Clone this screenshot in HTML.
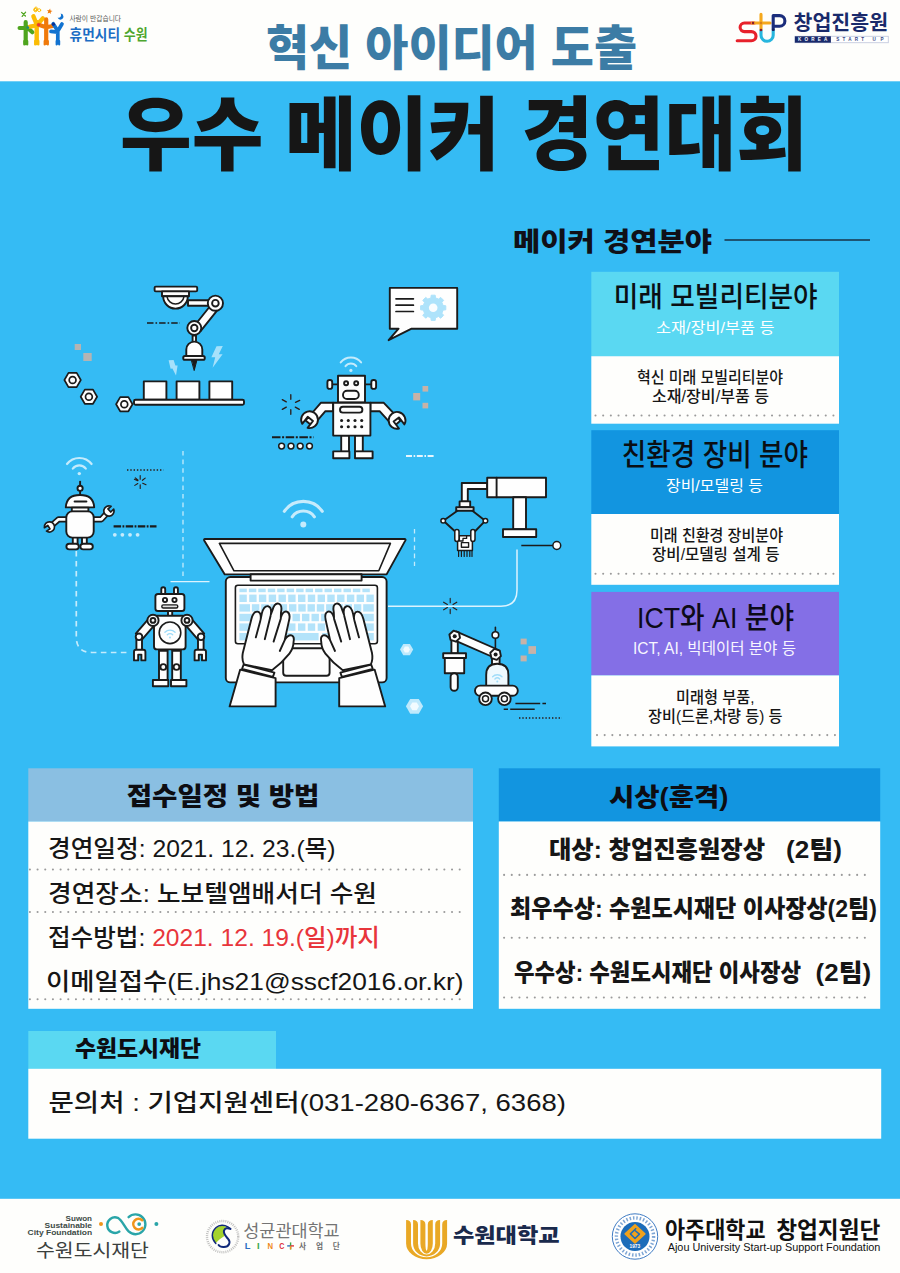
<!DOCTYPE html>
<html lang="ko"><head><meta charset="utf-8"><title>우수 메이커 경연대회</title>
<style>
html,body{margin:0;padding:0;background:#35bbf4;}
body{width:900px;height:1273px;overflow:hidden;position:relative;font-family:"Liberation Sans",sans-serif;}
svg{position:absolute;left:0;top:0;display:block}
.tx{position:absolute;margin:0;padding:0;line-height:1;white-space:nowrap;font-weight:400;color:transparent;background:none;pointer-events:none}
</style></head><body>
<svg width="900" height="1273" viewBox="0 0 900 1273">

<rect x="0" y="0" width="900" height="1273" fill="#35bbf4"/>
<rect x="0" y="0" width="900" height="81.3" fill="#fefefc"/>
<rect x="0" y="1198.8" width="900" height="75" fill="#fefefc"/>
<!-- category column -->
<rect x="591.3" y="271.8" width="247.7" height="84.4" fill="#5ad8f2"/>
<rect x="591.3" y="356.2" width="247.7" height="67.5" fill="#fefefc"/>
<rect x="591.3" y="430.2" width="247.7" height="83.8" fill="#1295e0"/>
<rect x="591.3" y="514" width="247.7" height="70.8" fill="#fefefc"/>
<rect x="591.3" y="591.9" width="247.7" height="83.5" fill="#846fe6"/>
<rect x="591.3" y="675.4" width="247.7" height="71" fill="#fefefc"/>
<line x1="595.5" y1="415.5" x2="833.47" y2="415.5" stroke="#9b9b9b" stroke-width="2.1" stroke-linecap="round" stroke-dasharray="0 7.675"/>
<line x1="595.5" y1="573.8" x2="833.47" y2="573.8" stroke="#9b9b9b" stroke-width="2.1" stroke-linecap="round" stroke-dasharray="0 7.675"/>
<line x1="597" y1="735.1" x2="834.97" y2="735.1" stroke="#9b9b9b" stroke-width="2.1" stroke-linecap="round" stroke-dasharray="0 7.675"/>
<line x1="724.5" y1="240" x2="870" y2="240" stroke="#173247" stroke-width="1.4"/>
<!-- panels -->
<rect x="28.3" y="768.3" width="444.7" height="53.2" fill="#8abfe2"/>
<rect x="28.3" y="821.5" width="444.7" height="187.3" fill="#fefefc"/>
<rect x="498.8" y="768.3" width="381.4" height="53.2" fill="#1295e0"/>
<rect x="498.8" y="821.5" width="381.4" height="187.3" fill="#fefefc"/>
<line x1="29.9" y1="869.5" x2="459.75" y2="869.5" stroke="#9b9b9b" stroke-width="2.1" stroke-linecap="round" stroke-dasharray="0 7.675"/>
<line x1="29.9" y1="912" x2="459.75" y2="912" stroke="#9b9b9b" stroke-width="2.1" stroke-linecap="round" stroke-dasharray="0 7.675"/>
<line x1="29.9" y1="999.2" x2="459.75" y2="999.2" stroke="#9b9b9b" stroke-width="2.1" stroke-linecap="round" stroke-dasharray="0 7.675"/>
<line x1="504.1" y1="874.9" x2="864.88" y2="874.9" stroke="#9b9b9b" stroke-width="2.1" stroke-linecap="round" stroke-dasharray="0 7.675"/>
<line x1="504.1" y1="937.8" x2="864.88" y2="937.8" stroke="#9b9b9b" stroke-width="2.1" stroke-linecap="round" stroke-dasharray="0 7.675"/>
<line x1="504.1" y1="997.5" x2="864.88" y2="997.5" stroke="#9b9b9b" stroke-width="2.1" stroke-linecap="round" stroke-dasharray="0 7.675"/>
<rect x="28.3" y="1031" width="247.7" height="38" fill="#5ad8f2"/>
<rect x="28.3" y="1068.8" width="852.9" height="69.9" fill="#fefefc"/>

<g id="illus"><g fill="none" stroke="#c4ebfc" stroke-width="1.3">
<path d="M183 451V579" stroke-dasharray="4.6 4"/>
<path d="M76.3 551V637Q76.3 652.5 92 652.5H128" stroke-dasharray="5.6 4.4" stroke-width="1.7"/>
<path d="M414.5 529V566" stroke-dasharray="4.6 3.6"/>
<path d="M170.5 581.7H209.5" stroke="#dcf3fe" stroke-width="1.3"/>
<path d="M388 606.3H501Q517 606.3 517 590V549.5" stroke="#dcf3fe" stroke-width="1.5"/>
</g>
<rect x="74.7" y="344" width="6.3" height="6.0" fill="#b4b4b4"/>
<rect x="83.3" y="353" width="8.4" height="8.0" fill="#b4b4b4"/>
<rect x="422.5" y="386" width="5.7" height="5.6" fill="#c7b2a7"/>
<rect x="413.2" y="393" width="7.0" height="7.4" fill="#c7b2a7"/>
<rect x="422.5" y="402.8" width="5.7" height="5.6" fill="#c7b2a7"/>
<rect x="520.6" y="638.6" width="6.1" height="5.8" fill="#c7b2a7"/>
<rect x="528.4" y="646.1" width="7.6" height="7.8" fill="#c7b2a7"/>
<rect x="520.6" y="655.5" width="6.1" height="5.9" fill="#c7b2a7"/>
<polygon points="80.8,380.0 76.7,387.1 68.5,387.1 64.4,380.0 68.5,372.9 76.7,372.9" fill="#fefefe" stroke="#1b1b1b" stroke-width="1.7" stroke-linejoin="round"/>
<circle cx="72.6" cy="380" r="3.4" fill="#fefefe" stroke="#1b1b1b" stroke-width="1.7"/>
<polygon points="97.1,396.7 93.0,403.8 84.8,403.8 80.7,396.7 84.8,389.6 93.0,389.6" fill="#fefefe" stroke="#1b1b1b" stroke-width="1.7" stroke-linejoin="round"/>
<circle cx="88.9" cy="396.7" r="3.4" fill="#fefefe" stroke="#1b1b1b" stroke-width="1.7"/>
<polygon points="132.5,404.2 128.4,411.3 120.2,411.3 116.1,404.2 120.2,397.1 128.4,397.1" fill="#fefefe" stroke="#1b1b1b" stroke-width="1.7" stroke-linejoin="round"/>
<circle cx="124.3" cy="404.2" r="3.4" fill="#fefefe" stroke="#1b1b1b" stroke-width="1.7"/>
<polygon points="413.2,649.6 409.9,655.3 403.3,655.3 400.0,649.6 403.3,643.9 409.9,643.9" fill="#bfe9fc"/>
<polygon points="410.0,649.6 408.3,652.6 404.9,652.6 403.2,649.6 404.9,646.6 408.3,646.6" fill="#f2fbff"/>
<polygon points="423.1,706.3 418.8,713.7 410.2,713.7 405.9,706.3 410.2,698.9 418.8,698.9" fill="#bfe9fc"/>
<polygon points="419.0,706.3 416.7,710.2 412.3,710.2 410.0,706.3 412.3,702.4 416.7,702.4" fill="#f2fbff"/>
<path d="M290.8 399.3L290.8 394.7M295.5 402.3L299.7 400.4M295.3 407.1L299.3 409.4M290.8 409.7L290.8 414.3M286.3 407.1L282.3 409.4M286.3 401.9L282.3 399.6" stroke="#2a1a14" stroke-width="1.3" fill="none" stroke-linecap="round"/>
<path d="M140.2 479.2L140.2 475.6M142.4 480.3L145.2 478.1M142.7 483.2L146.0 484.7M140.2 484.8L140.2 488.4M137.8 483.5L134.8 485.4M137.7 480.8L134.4 479.3M138.1 480.2L135.3 477.9" stroke="#2a1a14" stroke-width="1.1" fill="none" stroke-linecap="round"/>
<path d="M450.2 602.8L450.2 598.4M453.0 604.4L456.8 602.2M453.0 607.6L456.8 609.8M450.2 609.2L450.2 613.6M447.4 607.6L443.6 609.8M447.4 604.4L443.6 602.2" stroke="#2a1a14" stroke-width="1.1" fill="none" stroke-linecap="round"/>
<path d="M147 323H180" stroke="#1b1b1b" stroke-width="1.4" stroke-dasharray="6.5 2 1.6 2" fill="none"/>
<path d="M272 437.2H313.5" stroke="#1b1b1b" stroke-width="2" stroke-dasharray="8.5 1.6 2 1.6" fill="none"/>
<path d="M113.6 526.4H156.5" stroke="#1b1b1b" stroke-width="2.4" stroke-dasharray="7.5 1.4 1.8 1.4" fill="none"/>
<path d="M127 470H163.5" stroke="#2a1a14" stroke-width="1.5" stroke-dasharray="1.4 1.9" fill="none"/>
<path d="M519 718H562" stroke="#2a1a14" stroke-width="1.5" stroke-dasharray="1.4 1.9" fill="none"/>
<path d="M406 455.9H434.5" stroke="#e6f6fe" stroke-width="2" stroke-dasharray="6 1.6 1.6 1.6" fill="none"/>
<circle cx="281.6" cy="446.1" r="2.9" fill="#fefefe" stroke="#1b1b1b" stroke-width="1.5"/>
<circle cx="291" cy="446.1" r="2.9" fill="#fefefe" stroke="#1b1b1b" stroke-width="1.5"/>
<circle cx="300.2" cy="446.1" r="2.9" fill="#fefefe" stroke="#1b1b1b" stroke-width="1.5"/>
<circle cx="309.5" cy="446.1" r="2.9" fill="#fefefe" stroke="#1b1b1b" stroke-width="1.5"/>
<circle cx="114.8" cy="534.8" r="1.9" fill="#c6ebfc"/>
<circle cx="122.4" cy="534.8" r="1.9" fill="#c6ebfc"/>
<circle cx="130" cy="534.8" r="1.9" fill="#c6ebfc"/>
<circle cx="137.6" cy="534.8" r="1.9" fill="#c6ebfc"/>
<path d="M515.4 703.4H540.2M542.4 703.4H546M510.2 709.3H534.7M503.7 709.3H508" stroke="#1b1b1b" stroke-width="1.5" fill="none"/>
<path d="M521.3 545.5H553" stroke="#1b1b1b" stroke-width="1.5"/><circle cx="556.8" cy="545.5" r="3.9" fill="#fefefe" stroke="#1b1b1b" stroke-width="1.5"/>
<g fill="#fefefe" stroke="#1b1b1b" stroke-width="1.9" stroke-linejoin="round" stroke-linecap="round">
<path d="M188 300.2H212V305.8H188Z"/>
<path d="M210.6 305.5L217.4 310.2L200.6 331.2L193.8 326.5Z"/>
<rect x="154.6" y="286.6" width="42.6" height="4.8" rx="1.2"/>
<path d="M162 291.4H189V296.3H162Z"/>
<path d="M163.2 296.3A12.3 12.3 0 0 0 187.8 296.3Z"/>
<path d="M167 296.6A8.6 8.6 0 0 0 184 296.6" fill="none" stroke-width="1.5"/>
<circle cx="215.4" cy="303.2" r="7.6"/><circle cx="215.4" cy="303.2" r="3.3"/>
<circle cx="194.3" cy="328" r="7"/><circle cx="194.3" cy="328" r="3.2"/>
<rect x="192.6" y="335.5" width="3.4" height="6.5"/>
<path d="M186.3 356V349.6A8 8 0 0 1 202.3 349.6V356Z"/>
<rect x="183.2" y="356" width="21.6" height="3.8" rx="1.9"/>
<path d="M191.8 360.6H196.8L194.3 370.2Z" fill="#1b1b1b" stroke-width="1"/>
<rect x="143.8" y="381.4" width="22.6" height="18.4"/><rect x="176.6" y="381.4" width="22.8" height="18.4"/><rect x="209.4" y="381.4" width="22.8" height="18.4"/>
<rect x="134" y="399.8" width="110" height="5" rx="1.5"/>
</g>
<path d="M216.5 346.2L222.8 346L218.8 354.2L222.6 354.2L212.6 367.8L215.2 357.2L211.4 357.2Z" fill="#a6e1fb"/>
<path d="M168.6 360.2L173.6 360L175.4 365.6L177.6 365.4L176 375.6L172.4 368.6L170.6 368.8Z" fill="#a6e1fb"/>
<path d="M389.8 287.9H457.2V328.7H411.6L388.6 340.2L398.6 328.7H389.8Z" fill="#fefefe" stroke="#1b1b1b" stroke-width="1.9" stroke-linejoin="round" stroke-linecap="round"/>
<path d="M396 298.8H413.4M396 305.2H413.4M396 311.5H413.4" stroke="#1b1b1b" stroke-width="1.7" stroke-linecap="round" fill="none"/>
<path d="M443.1 305.5L445.8 305.8L445.8 309.8L443.1 310.1L441.9 313.2L443.6 315.3L440.7 318.2L438.6 316.5L435.5 317.7L435.2 320.4L431.2 320.4L430.9 317.7L427.8 316.5L425.7 318.2L422.8 315.3L424.5 313.2L423.3 310.1L420.6 309.8L420.6 305.8L423.3 305.5L424.5 302.4L422.8 300.3L425.7 297.4L427.8 299.1L430.9 297.9L431.2 295.2L435.2 295.2L435.5 297.9L438.6 299.1L440.7 297.4L443.6 300.3L441.9 302.4Z" fill="#aee3fb" stroke="#aee3fb" stroke-width="1" stroke-linejoin="round"/><circle cx="433.2" cy="307.8" r="4.3" fill="#fafdff"/>
<path d="M345.5 366.2A6.8 6.8 0 0 1 356.3 366.2M340.7 362.4A13 13 0 0 1 361.1 362.4" stroke="#c4ebfc" stroke-width="2.0" fill="none" stroke-linecap="round"/>
<circle cx="350.9" cy="370.4" r="1.6" fill="#c4ebfc"/>
<g fill="#fefefe" stroke="#1b1b1b" stroke-width="1.9" stroke-linejoin="round" stroke-linecap="round">
<path d="M333.1 402.8H320.8L305.6 420.5L312.6 426.2L325.4 411.2H333.1Z"/>
<path d="M370.4 402.8H383.8L400.6 420.5L393.6 426.6L379.6 411.2H370.4Z"/>
<path d="M302.2 423.8A8.4 8.4 0 1 1 307.6 427.9L313.0 420.9L307.7 416.8Z"/>
<path d="M399.0 428.5A8.4 8.4 0 1 1 404.4 424.4L398.9 417.4L393.6 421.5Z"/>
<path d="M332.2 384.4H338M365 384.4H371.3" fill="none"/>
<rect x="327.4" y="380" width="4.8" height="8.9" rx="2.2"/><rect x="371.3" y="380" width="4.8" height="8.9" rx="2.2"/>
<rect x="338" y="375.7" width="27" height="26.8"/>
<circle cx="346.1" cy="383.2" r="2"/><circle cx="356.2" cy="383.2" r="2"/>
<rect x="343" y="390.8" width="15.8" height="8.2" rx="4.1"/>
<rect x="341.2" y="435.6" width="7.8" height="16"/><rect x="355" y="435.6" width="7.8" height="16"/>
<rect x="333.2" y="451.4" width="16.2" height="6.8"/><rect x="355" y="451.4" width="17.6" height="6.8"/>
<rect x="333.2" y="402.8" width="37.2" height="32.8"/>
<rect x="340" y="406.8" width="22.4" height="5.8" rx="2.9"/>
</g>
<circle cx="341.6" cy="420.5" r="1.55" fill="#1b1b1b"/>
<circle cx="348.3" cy="420.5" r="1.55" fill="#1b1b1b"/>
<circle cx="355" cy="420.5" r="1.55" fill="#1b1b1b"/>
<circle cx="361.7" cy="420.5" r="1.55" fill="#1b1b1b"/>
<circle cx="341.6" cy="426.8" r="1.55" fill="#1b1b1b"/>
<circle cx="348.3" cy="426.8" r="1.55" fill="#1b1b1b"/>
<circle cx="355" cy="426.8" r="1.55" fill="#1b1b1b"/>
<circle cx="361.7" cy="426.8" r="1.55" fill="#1b1b1b"/>
<path d="M72.8 468.6A8.2 8.2 0 0 1 85.8 468.6M67.0 464.0A15.6 15.6 0 0 1 91.6 464.0" stroke="#c4ebfc" stroke-width="2.2" fill="none" stroke-linecap="round"/>
<circle cx="79.3" cy="473.6" r="1.7" fill="#c4ebfc"/>
<g fill="#fefefe" stroke="#1b1b1b" stroke-width="1.9" stroke-linejoin="round" stroke-linecap="round">
<path d="M80.1 481.6V495.4" fill="none"/><circle cx="80.1" cy="488.3" r="2.6"/>
<path d="M66.4 519.3H58.6L51 526" fill="none" stroke-width="6.2" stroke-linecap="butt"/>
<path d="M67 519.3H58.6L51 526" fill="none" stroke="#fefefe" stroke-width="2.8" stroke-linecap="butt"/>
<path d="M93.6 519.3H101.4L107.6 512.4" fill="none" stroke-width="6.2" stroke-linecap="butt"/>
<path d="M93 519.3H101.4L107.6 512.4" fill="none" stroke="#fefefe" stroke-width="2.8" stroke-linecap="butt"/>
<path d="M44.4 527.7A5.1 5.1 0 1 1 46.5 531.1L50.0 528.9L47.8 525.5Z" stroke-width="1.7"/>
<path d="M113.7 509.2A5.1 5.1 0 1 1 111.0 506.3L108.0 509.0L110.7 512.0Z" stroke-width="1.7"/>
<path d="M65.8 507.4Q66.4 495 80 495Q93.6 495 94.2 507.4Z"/>
<path d="M74.6 501.6H86.4" stroke-width="2"/>
<rect x="71.8" y="507.6" width="16.6" height="4.2"/>
<rect x="72.8" y="537" width="4.8" height="7.4"/><rect x="82" y="537" width="4.8" height="7.4"/>
<rect x="66.4" y="543.8" width="12.4" height="5.6" rx="2.8"/><rect x="80.4" y="543.8" width="12.4" height="5.6" rx="2.8"/>
<rect x="66.3" y="511.4" width="27.4" height="26.2" rx="6"/>
</g>
<g fill="#fefefe" stroke="#1b1b1b" stroke-width="1.9" stroke-linejoin="round" stroke-linecap="round">
<rect x="161.3" y="587.3" width="3.9" height="9" rx="1.9"/><rect x="174" y="587.3" width="3.9" height="9" rx="1.9"/>
<rect x="155.4" y="594" width="29" height="17" rx="2.6"/>
<circle cx="165" cy="600" r="2.1"/><circle cx="174.5" cy="600" r="2.1"/>
<rect x="161.8" y="604.9" width="16" height="3.1" rx="1.5" fill="#e2e2e2" stroke-width="1.4"/>
<rect x="168" y="611" width="4.2" height="5"/>
<path d="M149.6 617.6L156.2 623.2L142.4 639.2L135.8 633.6Z"/><path d="M190.4 617.6L183.8 623.2L197.6 639.2L204.2 633.6Z"/>
<rect x="136.4" y="638" width="5.6" height="13"/><rect x="198" y="638" width="5.6" height="13"/>
<circle cx="139" cy="636.8" r="3.3"/><circle cx="201" cy="636.8" r="3.3"/>
<path d="M134 651.8Q134 649.8 136 649.8H143.4Q145.4 649.8 145.4 651.8V660.4H141.4V654.6H138.2V660.4H134Z"/>
<path d="M194.6 651.8Q194.6 649.8 196.6 649.8H204Q206 649.8 206 651.8V660.4H202V654.6H198.8V660.4H194.6Z"/>
<rect x="159" y="649.4" width="8.6" height="30.8"/><rect x="172.2" y="649.4" width="8.6" height="30.8"/>
<circle cx="163.3" cy="667" r="2.9"/><circle cx="176.5" cy="667" r="2.9"/>
<rect x="152.9" y="680" width="15.4" height="6.2"/><rect x="171" y="680" width="15.4" height="6.2"/>
<rect x="154" y="615.7" width="31.6" height="33.7" rx="3"/>
<path d="M159.6 650.6H167M172.8 650.6H180.2" stroke-width="2.2"/>
<circle cx="153" cy="620.4" r="5.6"/><circle cx="153" cy="620.4" r="2.4"/>
<circle cx="187" cy="620.4" r="5.6"/><circle cx="187" cy="620.4" r="2.4"/>
<circle cx="170" cy="632.8" r="10.8" stroke-width="1.6"/>
</g>
<path d="M167.3 634.7A3.8 3.8 0 0 1 172.7 634.7M164.9 632.3A7.2 7.2 0 0 1 175.1 632.3" stroke="#9fdcf9" stroke-width="1.3" fill="none" stroke-linecap="round"/>
<circle cx="170" cy="637.4" r="1.0" fill="#9fdcf9"/>
<path d="M292.2 516.8A13.6 13.6 0 0 1 314.4 516.8M284.3 511.3A23.2 23.2 0 0 1 322.3 511.3" stroke="#c6ebfc" stroke-width="3.1" fill="none" stroke-linecap="round"/>
<circle cx="303.3" cy="524.6" r="3.0" fill="#c6ebfc"/>
<g fill="#fefefe" stroke="#1b1b1b" stroke-width="1.9" stroke-linejoin="round" stroke-linecap="round">
<rect x="225.8" y="577" width="160.8" height="105.4" rx="4.5"/>
<path d="M205 539H404.6Q406 539 405.4 540.4L386.6 574.4H224.8L204.2 540.4Q203.6 539 205 539Z"/>
<path d="M219.4 543.4H390.4L378.8 570.8H234Z" stroke-width="1.6"/>
<rect x="250.6" y="574.2" width="111" height="6.4"/>
<rect x="235.4" y="585.2" width="142" height="58.6" rx="2.5" stroke-width="1.6"/>
<rect x="283.2" y="648.2" width="46.4" height="27.6" rx="3"/>
</g>
<rect x="239.4" y="588.6" width="7.4" height="3.6" fill="#b3e3fa"/>
<rect x="248.9" y="588.6" width="7.4" height="3.6" fill="#b3e3fa"/>
<rect x="258.3" y="588.6" width="7.4" height="3.6" fill="#b3e3fa"/>
<rect x="267.8" y="588.6" width="7.4" height="3.6" fill="#b3e3fa"/>
<rect x="277.2" y="588.6" width="7.4" height="3.6" fill="#b3e3fa"/>
<rect x="286.7" y="588.6" width="7.4" height="3.6" fill="#b3e3fa"/>
<rect x="296.2" y="588.6" width="7.4" height="3.6" fill="#b3e3fa"/>
<rect x="305.6" y="588.6" width="7.4" height="3.6" fill="#b3e3fa"/>
<rect x="315.1" y="588.6" width="7.4" height="3.6" fill="#b3e3fa"/>
<rect x="324.5" y="588.6" width="7.4" height="3.6" fill="#b3e3fa"/>
<rect x="334.0" y="588.6" width="7.4" height="3.6" fill="#b3e3fa"/>
<rect x="343.5" y="588.6" width="7.4" height="3.6" fill="#b3e3fa"/>
<rect x="352.9" y="588.6" width="7.4" height="3.6" fill="#b3e3fa"/>
<rect x="362.4" y="588.6" width="7.4" height="3.6" fill="#b3e3fa"/>
<rect x="239.4" y="594.6" width="7.4" height="7.4" fill="#b3e3fa"/>
<rect x="249.2" y="594.6" width="7.4" height="7.4" fill="#b3e3fa"/>
<rect x="258.9" y="594.6" width="7.4" height="7.4" fill="#b3e3fa"/>
<rect x="268.7" y="594.6" width="7.4" height="7.4" fill="#b3e3fa"/>
<rect x="278.5" y="594.6" width="7.4" height="7.4" fill="#b3e3fa"/>
<rect x="288.2" y="594.6" width="7.4" height="7.4" fill="#b3e3fa"/>
<rect x="298.0" y="594.6" width="7.4" height="7.4" fill="#b3e3fa"/>
<rect x="307.8" y="594.6" width="7.4" height="7.4" fill="#b3e3fa"/>
<rect x="317.6" y="594.6" width="7.4" height="7.4" fill="#b3e3fa"/>
<rect x="327.3" y="594.6" width="7.4" height="7.4" fill="#b3e3fa"/>
<rect x="337.1" y="594.6" width="7.4" height="7.4" fill="#b3e3fa"/>
<rect x="346.9" y="594.6" width="7.4" height="7.4" fill="#b3e3fa"/>
<rect x="356.6" y="594.6" width="7.4" height="7.4" fill="#b3e3fa"/>
<rect x="366.4" y="594.6" width="7.4" height="7.4" fill="#b3e3fa"/>
<rect x="239.4" y="604.2" width="10.6" height="7.4" fill="#b3e3fa"/>
<rect x="251.9" y="604.2" width="7.4" height="7.4" fill="#b3e3fa"/>
<rect x="261.2" y="604.2" width="7.4" height="7.4" fill="#b3e3fa"/>
<rect x="270.4" y="604.2" width="7.4" height="7.4" fill="#b3e3fa"/>
<rect x="279.7" y="604.2" width="7.4" height="7.4" fill="#b3e3fa"/>
<rect x="289.0" y="604.2" width="7.4" height="7.4" fill="#b3e3fa"/>
<rect x="298.3" y="604.2" width="7.4" height="7.4" fill="#b3e3fa"/>
<rect x="307.5" y="604.2" width="7.4" height="7.4" fill="#b3e3fa"/>
<rect x="316.8" y="604.2" width="7.4" height="7.4" fill="#b3e3fa"/>
<rect x="326.1" y="604.2" width="7.4" height="7.4" fill="#b3e3fa"/>
<rect x="335.4" y="604.2" width="7.4" height="7.4" fill="#b3e3fa"/>
<rect x="344.6" y="604.2" width="7.4" height="7.4" fill="#b3e3fa"/>
<rect x="353.9" y="604.2" width="7.4" height="7.4" fill="#b3e3fa"/>
<rect x="363.2" y="604.2" width="10.6" height="7.4" fill="#b3e3fa"/>
<rect x="239.4" y="613.8" width="12.8" height="7.4" fill="#b3e3fa"/>
<rect x="254.3" y="613.8" width="7.4" height="7.4" fill="#b3e3fa"/>
<rect x="263.9" y="613.8" width="7.4" height="7.4" fill="#b3e3fa"/>
<rect x="273.4" y="613.8" width="7.4" height="7.4" fill="#b3e3fa"/>
<rect x="282.9" y="613.8" width="7.4" height="7.4" fill="#b3e3fa"/>
<rect x="292.5" y="613.8" width="7.4" height="7.4" fill="#b3e3fa"/>
<rect x="302.0" y="613.8" width="7.4" height="7.4" fill="#b3e3fa"/>
<rect x="311.5" y="613.8" width="7.4" height="7.4" fill="#b3e3fa"/>
<rect x="321.1" y="613.8" width="7.4" height="7.4" fill="#b3e3fa"/>
<rect x="330.6" y="613.8" width="7.4" height="7.4" fill="#b3e3fa"/>
<rect x="340.1" y="613.8" width="7.4" height="7.4" fill="#b3e3fa"/>
<rect x="349.7" y="613.8" width="7.4" height="7.4" fill="#b3e3fa"/>
<rect x="359.2" y="613.8" width="14.6" height="7.4" fill="#b3e3fa"/>
<rect x="239.4" y="623.4" width="16.8" height="7.4" fill="#b3e3fa"/>
<rect x="258.6" y="623.4" width="7.4" height="7.4" fill="#b3e3fa"/>
<rect x="268.5" y="623.4" width="7.4" height="7.4" fill="#b3e3fa"/>
<rect x="278.3" y="623.4" width="7.4" height="7.4" fill="#b3e3fa"/>
<rect x="288.1" y="623.4" width="7.4" height="7.4" fill="#b3e3fa"/>
<rect x="298.0" y="623.4" width="7.4" height="7.4" fill="#b3e3fa"/>
<rect x="307.8" y="623.4" width="7.4" height="7.4" fill="#b3e3fa"/>
<rect x="317.7" y="623.4" width="7.4" height="7.4" fill="#b3e3fa"/>
<rect x="327.5" y="623.4" width="7.4" height="7.4" fill="#b3e3fa"/>
<rect x="337.3" y="623.4" width="7.4" height="7.4" fill="#b3e3fa"/>
<rect x="347.2" y="623.4" width="7.4" height="7.4" fill="#b3e3fa"/>
<rect x="357.0" y="623.4" width="16.8" height="7.4" fill="#b3e3fa"/>
<rect x="239.4" y="633" width="7.4" height="7.4" fill="#b3e3fa"/>
<rect x="250.5" y="633" width="7.4" height="7.4" fill="#b3e3fa"/>
<rect x="261.5" y="633" width="7.4" height="7.4" fill="#b3e3fa"/>
<rect x="272.6" y="633" width="46.0" height="7.4" fill="#b3e3fa"/>
<rect x="322.2" y="633" width="7.4" height="7.4" fill="#b3e3fa"/>
<rect x="333.2" y="633" width="7.4" height="7.4" fill="#b3e3fa"/>
<rect x="344.3" y="633" width="7.4" height="7.4" fill="#b3e3fa"/>
<rect x="355.4" y="633" width="7.4" height="7.4" fill="#b3e3fa"/>
<rect x="366.4" y="633" width="7.4" height="7.4" fill="#b3e3fa"/>
<g fill="#fefefe" stroke="#1b1b1b" stroke-width="1.9" stroke-linejoin="round" stroke-linecap="round"><path d="M275.6 678.2V706.4H229.6L240.2 669.6Z"/>
<path d="M243.6 664.6L274.4 672.6L273 676.8L242 669Z"/>
<path d="M244 664.4Q241.6 659.6 242.8 653L251.4 619Q253.4 611.4 257.4 611.6Q261.6 612.2 260.6 619.6L261.8 613.6Q263.8 605.6 268 606.2Q272 607 270.8 614.6L272.4 610.4Q274.4 602.8 278.4 603.6Q282.6 604.6 281 612.4L280.8 617.6Q283 610.6 286.8 611.6Q290.6 613 289.2 619.6L284.8 639.6Q288.2 634.6 291.6 635.4Q294.6 636.6 293.6 641.6Q293.4 648.4 289.4 653.6Q282 663 272 670.2Z"/>
<path d="M260.4 620.6L255.8 637.4M270.6 615.8L264.8 639.2M280.8 618.6L273.6 641.6M284.6 640.4L279.8 651" fill="none"/></g>
<g fill="#fefefe" stroke="#1b1b1b" stroke-width="1.9" stroke-linejoin="round" stroke-linecap="round" transform="translate(614.8 0) scale(-1 1)"><path d="M275.6 678.2V706.4H229.6L240.2 669.6Z"/>
<path d="M243.6 664.6L274.4 672.6L273 676.8L242 669Z"/>
<path d="M244 664.4Q241.6 659.6 242.8 653L251.4 619Q253.4 611.4 257.4 611.6Q261.6 612.2 260.6 619.6L261.8 613.6Q263.8 605.6 268 606.2Q272 607 270.8 614.6L272.4 610.4Q274.4 602.8 278.4 603.6Q282.6 604.6 281 612.4L280.8 617.6Q283 610.6 286.8 611.6Q290.6 613 289.2 619.6L284.8 639.6Q288.2 634.6 291.6 635.4Q294.6 636.6 293.6 641.6Q293.4 648.4 289.4 653.6Q282 663 272 670.2Z"/>
<path d="M260.4 620.6L255.8 637.4M270.6 615.8L264.8 639.2M280.8 618.6L273.6 641.6M284.6 640.4L279.8 651" fill="none"/></g>
<g fill="#fefefe" stroke="#1b1b1b" stroke-width="1.9" stroke-linejoin="round" stroke-linecap="round">
<path d="M487.2 483H461.8V501.4H467.8V489H487.2Z"/>
<rect x="487.2" y="477.8" width="58.8" height="19.4"/><path d="M496.6 477.8V497.2" fill="none"/>
<rect x="513.2" y="497.2" width="12.8" height="32"/>
<rect x="503" y="529.2" width="33.2" height="7.8"/>
<rect x="459.6" y="501.4" width="10.6" height="5.8"/>
<rect x="456.2" y="507.2" width="17.4" height="3.6"/>
<path d="M457.4 510.8L443.4 520.8L456.8 533M472.4 510.8L485.2 520.8L473.4 533" fill="none" stroke-width="1.9"/>
<circle cx="443.2" cy="520.8" r="2.3" stroke-width="1.5"/><circle cx="485.4" cy="520.8" r="2.3" stroke-width="1.5"/>
<rect x="457.6" y="535.8" width="14.8" height="14.8" stroke-width="1.5"/>
<path d="M459.4 535.6V541H463V538.4H466.6V535.6" fill="none" stroke-width="1.3"/>
<rect x="461.4" y="542.6" width="7.2" height="4.6" stroke-width="1.4"/>
<rect x="454.8" y="529.4" width="4.2" height="12" rx="2.1" stroke-width="1.5"/><rect x="470.8" y="529.4" width="4.2" height="12" rx="2.1" stroke-width="1.5"/>
<path d="M458.6 550.6V556.4M461.4 550.6V556.4M464.2 550.6V556.4M467 550.6V556.4M469.8 550.6V556.4M472 550.6V556.4" fill="none" stroke-width="1.2"/>
</g>
<g fill="#fefefe" stroke="#1b1b1b" stroke-width="1.9" stroke-linejoin="round" stroke-linecap="round">
<path d="M495.4 627.4V650" fill="none" stroke-width="1.6"/><circle cx="495.4" cy="635" r="3.3" stroke-width="1.6"/>
<rect x="451.4" y="640" width="6.4" height="13.4"/>
<path d="M456.6 631.6L498.6 650L495 658L453 639.6Z"/>
<rect x="492" y="658" width="7.6" height="8"/>
<polygon points="460.0,637.9 455.9,641.7 450.5,639.9 449.4,634.5 453.5,630.7 458.9,632.5"/>
<polygon points="500.9,656.1 496.8,659.9 491.4,658.1 490.3,652.7 494.4,648.9 499.8,650.7"/>
<rect x="443.2" y="653.2" width="22.8" height="4.8"/>
<rect x="444.8" y="658" width="19.4" height="15.2"/>
<rect x="450.6" y="673.2" width="7.2" height="17.6" rx="3.6"/>
<path d="M486.2 686.2V675Q486.2 663.8 497.2 663.8Q508.4 663.8 508.4 675V686.2Z" fill="#eef9fe"/>
<rect x="475" y="685.6" width="42.8" height="10.2" rx="5.1"/>
<circle cx="485.5" cy="698.8" r="6.3"/><circle cx="485.5" cy="698.8" r="3" stroke-width="1.5"/>
<circle cx="504.4" cy="698.8" r="6.3"/><circle cx="504.4" cy="698.8" r="3" stroke-width="1.5"/>
</g>
<circle cx="454.7" cy="636.2" r="2" fill="#1b1b1b"/><circle cx="495.6" cy="654.4" r="2" fill="#1b1b1b"/>
<path d="M494.9 679.0A3.4 3.4 0 0 1 499.7 679.0M492.6 676.7A6.6 6.6 0 0 1 502.0 676.7" stroke="#9fdcf9" stroke-width="1.3" fill="none" stroke-linecap="round"/>
<circle cx="497.3" cy="681.4" r="1.0" fill="#9fdcf9"/></g>
<g id="logos" font-family="'Liberation Sans','Noto Sans CJK KR',sans-serif"><g fill="none" stroke-linecap="round" stroke-linejoin="round">
<path d="M25.7 22.2V43.2M19.6 28H25.7M26 26.4L32.4 32.2" stroke="#4fa51e" stroke-width="4.2"/>
<path d="M24.3 41V44.4M27.2 41V44.4" stroke="#4fa51e" stroke-width="2.2"/>
<path d="M36.7 22V43M33.4 16.4L36.6 24M30 26.6L36.7 25.4M36.9 25L42.8 18.4" stroke="#fbbc05" stroke-width="4.4"/>
<path d="M35.2 41V44.4M38.3 41V44.4" stroke="#fbbc05" stroke-width="2.3"/>
<path d="M46.2 19.4V43M38.6 24.8L46.2 27.2L52.8 26" stroke="#f07a0a" stroke-width="4.2"/>
<path d="M44.7 41V44.4M47.8 41V44.4" stroke="#f07a0a" stroke-width="2.2"/>
<circle cx="38.6" cy="24.7" r="1.5" fill="#e8343a" stroke="none"/>
<path d="M57.8 31V43M53.2 23.8L57.8 31L62 24M51 31.4L57.6 32.2" stroke="#1273d0" stroke-width="3.7"/>
<path d="M56.6 41V44.4M59.2 41V44.4" stroke="#1273d0" stroke-width="2"/>
<circle cx="53.4" cy="24.2" r="1.6" fill="#0c2f8f" stroke="none"/>
<circle cx="27.8" cy="27.6" r="1.4" fill="#1f8a7a" stroke="none"/>
<path d="M21.6 12.4L25.4 16M25.6 12.2L22.2 16.4" stroke="#4fa51e" stroke-width="1.3"/>
<path d="M37.2 10A1.7 1.7 0 1 0 37.2 10.1A1.7 1.7 0 1 1 37.3 10" stroke="#fbbc05" stroke-width="1" transform="translate(0 0)"/>
<circle cx="35.4" cy="9.6" r="1.5" stroke="#fbbc05" stroke-width="0.9"/><circle cx="39.2" cy="10.2" r="1.5" stroke="#fbbc05" stroke-width="0.9"/>
</g>
<polygon points="50.1,8.5 50.5,10.5 52.5,11.0 50.7,12.0 50.9,14.0 49.4,12.7 47.5,13.4 48.3,11.6 47.0,10.0 49.0,10.2" fill="#f07a0a"/>
<path d="M60.6 13.6A3 3 0 1 1 57.6 17.6A2.6 2.6 0 0 0 60.6 13.6Z" fill="#1273d0"/>
<text x="69.4" y="21.4" font-size="6.8" fill="#5a5a5a" textLength="51.7" lengthAdjust="spacingAndGlyphs">사람이 반갑습니다</text>
<text x="69.6" y="39.7" font-size="15" font-weight="700" fill="#1c6dc4" textLength="50.4" lengthAdjust="spacingAndGlyphs">휴먼시티</text>
<text x="123.8" y="39.8" font-size="15" font-weight="700" fill="#4ea62f" textLength="23.8" lengthAdjust="spacingAndGlyphs">수원</text>
<g fill="none" stroke-linecap="round" stroke-linejoin="round" stroke-width="3.1">
<path d="M754.4 23H744.4A4.3 4.3 0 0 0 744.4 31.6H751.4A4.6 4.6 0 0 1 751.4 40.8H737.2" stroke="#e7212b"/>
<path d="M761 14.4V29.6M752.2 23H770" stroke="#f5a81c"/>
<path d="M761 30.6V35.2A6.1 6.1 0 0 0 773.2 35.2V30.2" stroke="#27b6de"/>
<path d="M773.2 29.4V15.6H779.6A5.3 5.3 0 0 1 779.6 26.2H774.4" stroke="#1b2d7c"/>
</g>
<circle cx="753" cy="23" r="1.3" fill="#8a1c2c"/><circle cx="761" cy="30" r="1.3" fill="#8a1c2c"/><circle cx="773.2" cy="29.8" r="1.3" fill="#14205c"/><circle cx="761" cy="23" r="1.2" fill="#d8801a"/>
<text x="793.5" y="30.4" font-size="20.5" font-weight="700" fill="#192a6b" textLength="94.6" lengthAdjust="spacingAndGlyphs">창업진흥원</text>
<rect x="794.9" y="36.3" width="93.4" height="6.4" fill="#fff" stroke="#c4cade" stroke-width="0.9"/>
<rect x="794.9" y="36.3" width="36" height="6.4" fill="#192a6b"/>
<text x="798.1" y="41.2" font-size="4.6" font-weight="700" fill="#fff" textLength="29.3" lengthAdjust="spacing">KOREA</text>
<text x="836.3" y="41.2" font-size="4.6" font-weight="700" fill="#3a4a8a" textLength="27.7" lengthAdjust="spacing">START</text>
<text x="872.6" y="41.2" font-size="4.6" font-weight="700" fill="#3a4a8a" textLength="10.9" lengthAdjust="spacing">UP</text>
<text x="65.6" y="1220.5" font-size="7.5" font-weight="700" fill="#3c4a45" textLength="26.4" lengthAdjust="spacingAndGlyphs">Suwon</text>
<text x="44.6" y="1227.7" font-size="7.5" font-weight="700" fill="#3c4a45" textLength="47.5" lengthAdjust="spacingAndGlyphs">Sustainable</text>
<text x="27.6" y="1235" font-size="7.5" font-weight="700" fill="#3c4a45" textLength="64.5" lengthAdjust="spacingAndGlyphs">City Foundation</text>
<g fill="none" stroke-linecap="round">
<path d="M128.6 1217.2A9.9 9.9 0 1 1 128.6 1231.4C124.4 1227.4 122.6 1220.6 117.8 1217.8A7.8 7.8 0 1 0 119.4 1231.6" stroke="#2aa5a8" stroke-width="2.4"/>
<path d="M142.2 1220.2A5.3 5.3 0 1 0 142.2 1228" stroke="#f0951a" stroke-width="2.6"/>
</g>
<circle cx="139.2" cy="1224.1" r="1.9" fill="#2aa5a8"/><circle cx="101" cy="1224.1" r="2" fill="#f0951a"/><circle cx="156.4" cy="1224.1" r="2" fill="#2aa5a8"/>
<text x="36" y="1256.6" font-size="18" fill="#3b403d" textLength="112.9" lengthAdjust="spacingAndGlyphs">수원도시재단</text>
<circle cx="222.6" cy="1236.6" r="15.6" fill="none" stroke="#8f8f8f" stroke-width="2.4" stroke-dasharray="1 1.05" opacity="0.55"/>
<path d="M215.8 1243.2 C213.1 1240.0 211.9 1236.1 212.9 1232.2 C213.9 1228.9 217.8 1226.1 222.2 1225.8 C224.4 1225.8 226.1 1226.7 227.2 1227.7 C225.0 1228.6 223.6 1230.3 223.8 1232.8 L224.4 1236.1 C221.7 1237.8 218.3 1240.0 215.8 1243.2 Z" fill="#a4d32e"/>
<path d="M215.8 1243.4 C211.4 1238.9 210.8 1232.2 216.1 1227.5 C219.4 1224.7 224.4 1224.7 227.8 1226.9 C228.9 1227.7 230.0 1228.3 230.6 1229.0" fill="none" stroke="#10297a" stroke-width="1.5" stroke-linecap="round"/>
<path d="M230.4 1228.9 C227.8 1227.7 225.0 1227.8 224.0 1230.6 C223.1 1233.9 225.6 1236.1 228.1 1238.9 C231.1 1242.5 228.9 1246.7 223.9 1247.1 C221.4 1247.2 219.4 1246.4 218.6 1245.1" fill="none" stroke="#10297a" stroke-width="2" stroke-linecap="round"/>
<text x="243.3" y="1236.8" font-size="16.5" fill="#747474" textLength="96.3" lengthAdjust="spacingAndGlyphs">성균관대학교</text>
<text x="244.7" y="1249.2" font-size="9.3" font-weight="700" fill="#2b6fc2">L</text>
<text x="256.9" y="1249.2" font-size="9.3" font-weight="700" fill="#3aa64a">I</text>
<text x="267.5" y="1249.2" font-size="9.3" font-weight="700" fill="#f08a1e" textLength="5.6" lengthAdjust="spacingAndGlyphs">N</text>
<text x="279.3" y="1249.1" font-size="9.3" font-weight="700" fill="#e0303a" textLength="5.2" lengthAdjust="spacingAndGlyphs">C</text>
<path d="M290.6 1242.4V1249.4" stroke="#3aa64a" stroke-width="1.4"/><path d="M287.2 1245.9H290.6" stroke="#2b6fc2" stroke-width="1.4"/><path d="M290.6 1245.9H294" stroke="#e0303a" stroke-width="1.4"/><path d="M290.6 1245.9V1249.4" stroke="#f08a1e" stroke-width="1.4"/>
<text x="299" y="1248.8" font-size="7.7" font-weight="700" fill="#6e6e6e">사</text>
<text x="315.9" y="1248.8" font-size="7.7" font-weight="700" fill="#6e6e6e">업</text>
<text x="332.8" y="1248.8" font-size="7.7" font-weight="700" fill="#6e6e6e">단</text>
<path fill="#e9a825" d="M406.1 1220V1243.5A20.5 15.700000000000045 0 0 0 447.1 1243.5V1220Q442.20000000000005 1220 442.20000000000005 1224.5V1243.5A15.6 13.7 0 0 1 411.0 1243.5V1224.5Q411.0 1220 406.1 1220Z"/>
<path fill="#e9a825" d="M413.1 1220V1243.5A13.5 12.900000000000091 0 0 0 440.1 1243.5V1220Q435.20000000000005 1220 435.20000000000005 1224.5V1243.5A8.6 10.9 0 0 1 418.0 1243.5V1224.5Q418.0 1220 413.1 1220Z"/>
<path fill="#e9a825" d="M420.40000000000003 1220V1243.5A6.2 10.299999999999955 0 0 0 432.8 1243.5V1220Q427.8 1220 427.8 1224.5V1243.5A1.2 7.3 0 0 1 425.40000000000003 1243.5V1224.5Q425.40000000000003 1220 420.40000000000003 1220Z"/>
<text x="452.9" y="1242.7" font-size="20.5" font-weight="900" fill="#1a2a4c" textLength="106.8" lengthAdjust="spacingAndGlyphs">수원대학교</text>
<circle cx="635" cy="1236.5" r="22.7" fill="#fff" stroke="#3f7cc4" stroke-width="1"/>
<circle cx="635" cy="1236.5" r="18.6" fill="none" stroke="#2f6fba" stroke-width="3.4" stroke-dasharray="1.5 1.9" opacity="0.62"/>
<circle cx="635" cy="1236.5" r="14.5" fill="#1c6cb9"/>
<path d="M635 1224.9L644.8 1233.9L635 1242.9L625.2 1233.9Z" fill="#f0a21c" stroke="#f0a21c" stroke-width="1.6" stroke-linejoin="round"/>
<path d="M636.2 1228.3L630.4 1233.9L635 1238.5L639.4 1234.1L635 1230.5" fill="none" stroke="#1c6cb9" stroke-width="1.5" stroke-linejoin="round"/>
<text x="629.5" y="1248" font-size="5" font-weight="700" fill="#fff" textLength="10.7" lengthAdjust="spacingAndGlyphs">1973</text>
<text x="665" y="1237.7" font-size="22.5" font-weight="700" fill="#111" textLength="100.5" lengthAdjust="spacingAndGlyphs">아주대학교</text>
<text x="776.2" y="1237.7" font-size="22.5" font-weight="700" fill="#111" textLength="104.2" lengthAdjust="spacingAndGlyphs">창업지원단</text>
<text x="667.7" y="1251.1" font-size="10.3" fill="#111" textLength="212.7" lengthAdjust="spacingAndGlyphs">Ajou University Start-up Support Foundation</text></g>
<g id="text" font-family="'Liberation Sans','Noto Sans CJK KR',sans-serif">
<text x="266" y="64.5" font-size="48" font-weight="900" fill="#3c7ca5" textLength="371" lengthAdjust="spacingAndGlyphs">혁신 아이디어 도출</text>
<text x="120" y="163" font-size="80" font-weight="900" fill="#161616" textLength="688" lengthAdjust="spacingAndGlyphs">우수 메이커 경연대회</text>
<text x="513" y="251" font-size="26" font-weight="900" fill="#101018" textLength="199" lengthAdjust="spacingAndGlyphs">메이커 경연분야</text>
<text x="613.7" y="307.2" font-size="28.5" font-weight="500" fill="#0a0f14" textLength="204" lengthAdjust="spacingAndGlyphs">미래 모빌리티분야</text>
<text x="655.9" y="333.1" font-size="15" fill="#fff" textLength="118.6" lengthAdjust="spacingAndGlyphs">소재/장비/부품 등</text>
<text x="637" y="383" font-size="16" font-weight="500" fill="#161616" textLength="146" lengthAdjust="spacingAndGlyphs">혁신 미래 모빌리티분야</text>
<text x="652" y="401.5" font-size="16" font-weight="500" fill="#161616" textLength="117" lengthAdjust="spacingAndGlyphs">소재/장비/부품 등</text>
<text x="621.8" y="465" font-size="30" font-weight="500" fill="#0a0f14" textLength="186.3" lengthAdjust="spacingAndGlyphs">친환경 장비 분야</text>
<text x="666" y="491.3" font-size="15" fill="#fff" textLength="97" lengthAdjust="spacingAndGlyphs">장비/모델링 등</text>
<text x="650" y="541" font-size="16" font-weight="500" fill="#161616" textLength="133" lengthAdjust="spacingAndGlyphs">미래 친환경 장비분야</text>
<text x="652" y="560" font-size="16" font-weight="500" fill="#161616" textLength="127.5" lengthAdjust="spacingAndGlyphs">장비/모델링 설계 등</text>
<text x="637" y="628.1" font-size="29.5" font-weight="500" fill="#0c0a18" textLength="157" lengthAdjust="spacingAndGlyphs">ICT와 AI 분야</text>
<text x="633" y="653.5" font-size="16" fill="#f8f6ff" textLength="163" lengthAdjust="spacingAndGlyphs">ICT, AI, 빅데이터 분야 등</text>
<text x="676" y="702.5" font-size="16" font-weight="500" fill="#161616" textLength="78.5" lengthAdjust="spacingAndGlyphs">미래형 부품,</text>
<text x="648" y="722" font-size="16" font-weight="500" fill="#161616" textLength="134.5" lengthAdjust="spacingAndGlyphs">장비(드론,차량 등) 등</text>
<text x="126.7" y="805" font-size="25" font-weight="900" fill="#0d0d12" textLength="192.8" lengthAdjust="spacingAndGlyphs">접수일정 및 방법</text>
<text x="48" y="856.5" font-size="24" font-weight="500" fill="#161616" textLength="287.5" lengthAdjust="spacingAndGlyphs">경연일정: 2021. 12. 23.(목)</text>
<text x="48" y="901.5" font-size="24" font-weight="500" fill="#161616" textLength="329" lengthAdjust="spacingAndGlyphs">경연장소: 노보텔앰배서더 수원</text>
<text x="48" y="945.5" font-size="24" font-weight="500" fill="#161616" textLength="332" lengthAdjust="spacingAndGlyphs">접수방법: <tspan fill="#e8353b">2021. 12. 19.(일)까지</tspan></text>
<text x="46" y="989.5" font-size="24" font-weight="500" fill="#161616" textLength="417.5" lengthAdjust="spacingAndGlyphs">이메일접수(E.jhs21@sscf2016.or.kr)</text>
<text x="609" y="806" font-size="25" font-weight="900" fill="#0d0d12" textLength="119.5" lengthAdjust="spacingAndGlyphs">시상(훈격)</text>
<text x="549" y="858" font-size="24" font-weight="900" fill="#161616" textLength="216" lengthAdjust="spacingAndGlyphs">대상: 창업진흥원장상</text>
<text x="786" y="858" font-size="24" font-weight="900" fill="#161616" textLength="56" lengthAdjust="spacingAndGlyphs">(2팀)</text>
<text x="510" y="916.5" font-size="24" font-weight="900" fill="#161616" textLength="367" lengthAdjust="spacingAndGlyphs">최우수상: 수원도시재단 이사장상(2팀)</text>
<text x="514" y="981" font-size="24" font-weight="900" fill="#161616" textLength="287" lengthAdjust="spacingAndGlyphs">우수상: 수원도시재단 이사장상</text>
<text x="815.6" y="981" font-size="24" font-weight="900" fill="#161616" textLength="55.5" lengthAdjust="spacingAndGlyphs">(2팀)</text>
<text x="75" y="1055.5" font-size="22" font-weight="900" fill="#0d0d12" textLength="126" lengthAdjust="spacingAndGlyphs">수원도시재단</text>
<text x="48.5" y="1111" font-size="24" font-weight="500" fill="#161616" textLength="517.5" lengthAdjust="spacingAndGlyphs">문의처 : 기업지원센터(031-280-6367, 6368)</text>
</g>
</svg>
<main>
<p class="tx" style="left:69px;top:15px;font-size:7px">사람이 반갑습니다</p>
<p class="tx" style="left:69px;top:25px;font-size:17px">휴먼시티 수원</p>
<p class="tx" style="left:794px;top:12px;font-size:20px">창업진흥원</p>
<p class="tx" style="left:797px;top:36px;font-size:6px">KOREA START UP</p>
<h2 class="tx" style="left:266px;top:22px;font-size:48px">혁신 아이디어 도출</h2>
<h1 class="tx" style="left:120px;top:92px;font-size:80px">우수 메이커 경연대회</h1>
<h3 class="tx" style="left:513px;top:227px;font-size:26px">메이커 경연분야</h3>
<h4 class="tx" style="left:615px;top:281px;font-size:29px">미래 모빌리티분야</h4>
<p class="tx" style="left:656px;top:319px;font-size:16px">소재/장비/부품 등</p>
<p class="tx" style="left:637px;top:368px;font-size:16px">혁신 미래 모빌리티분야</p>
<p class="tx" style="left:652px;top:387px;font-size:16px">소재/장비/부품 등</p>
<h4 class="tx" style="left:623px;top:437px;font-size:30px">친환경 장비 분야</h4>
<p class="tx" style="left:667px;top:477px;font-size:16px">장비/모델링 등</p>
<p class="tx" style="left:649px;top:526px;font-size:16px">미래 친환경 장비분야</p>
<p class="tx" style="left:652px;top:545px;font-size:16px">장비/모델링 설계 등</p>
<h4 class="tx" style="left:638px;top:601px;font-size:30px">ICT와 AI 분야</h4>
<p class="tx" style="left:634px;top:639px;font-size:16px">ICT, AI, 빅데이터 분야 등</p>
<p class="tx" style="left:676px;top:688px;font-size:16px">미래형 부품,</p>
<p class="tx" style="left:648px;top:707px;font-size:16px">장비(드론,차량 등) 등</p>
<h3 class="tx" style="left:127px;top:782px;font-size:25px">접수일정 및 방법</h3>
<p class="tx" style="left:48px;top:834px;font-size:24px">경연일정: 2021. 12. 23.(목)</p>
<p class="tx" style="left:48px;top:879px;font-size:24px">경연장소: 노보텔앰배서더 수원</p>
<p class="tx" style="left:48px;top:923px;font-size:24px">접수방법: 2021. 12. 19.(일)까지</p>
<p class="tx" style="left:48px;top:967px;font-size:24px">이메일접수(E.jhs21@sscf2016.or.kr)</p>
<h3 class="tx" style="left:609px;top:782px;font-size:25px">시상(훈격)</h3>
<p class="tx" style="left:548px;top:835px;font-size:24px">대상: 창업진흥원장상 (2팀)</p>
<p class="tx" style="left:510px;top:893px;font-size:24px">최우수상: 수원도시재단 이사장상(2팀)</p>
<p class="tx" style="left:515px;top:958px;font-size:24px">우수상: 수원도시재단 이사장상 (2팀)</p>
<h3 class="tx" style="left:75px;top:1035px;font-size:22px">수원도시재단</h3>
<p class="tx" style="left:47px;top:1088px;font-size:24px">문의처 : 기업지원센터(031-280-6367, 6368)</p>
<p class="tx" style="left:28px;top:1240px;font-size:17px">Suwon Sustainable City Foundation 수원도시재단</p>
<p class="tx" style="left:244px;top:1222px;font-size:15px">성균관대학교 LINC+ 사업단</p>
<p class="tx" style="left:453px;top:1225px;font-size:20px">수원대학교</p>
<p class="tx" style="left:666px;top:1216px;font-size:23px">아주대학교 창업지원단</p>
<p class="tx" style="left:667px;top:1242px;font-size:10px">Ajou University Start-up Support Foundation</p>
</main>
</body></html>
